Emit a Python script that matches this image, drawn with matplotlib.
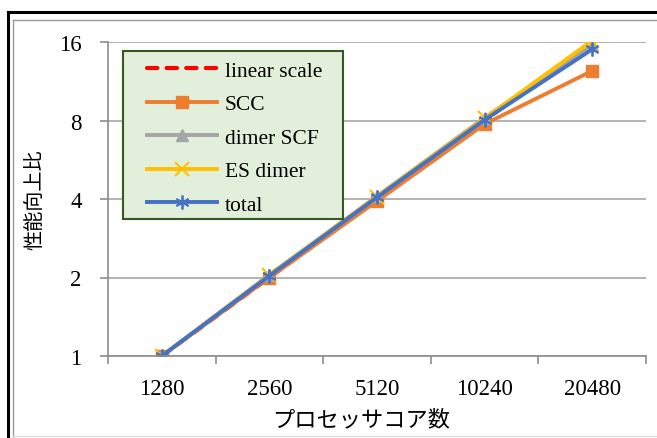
import matplotlib
matplotlib.use("Agg")
import matplotlib.pyplot as plt
from matplotlib.lines import Line2D
from matplotlib.patches import Rectangle

# data
cores = ["1280", "2560", "5120", "10240", "20480"]
linear_scale = [1, 2, 4, 8, 16]
scc = [1, 2.0, 3.93, 7.75, 12.4]
dimer_scf = [1, 2.05, 4.1, 8.2, 15.6]
es_dimer = [1, 2.04, 4.08, 8.15, 16.2]
total = [1, 2.03, 4.06, 8.05, 15.0]
yticks = [1, 2, 4, 8, 16]

W, H = 657, 439
plt.rcParams["font.family"] = ["Liberation Serif", "DejaVu Serif"]
jp = ["Noto Sans CJK JP", "DejaVu Sans"]

fig = plt.figure(figsize=(W / 100, H / 100), dpi=100)
ax = fig.add_axes([108 / W, 1 - 357 / H, (646 - 108) / W, (357 - 43) / H])

x = range(len(cores))
ax.plot(x, linear_scale, color="#FF0000", lw=3, ls=(0, (2.5, 2.2)),
        dash_capstyle="round", label="linear scale")
ax.plot(x, scc, color="#ED7D31", lw=2.8, marker="s", ms=9, label="SCC")
ax.plot(x, dimer_scf, color="#A5A5A5", lw=2.8, marker="^", ms=8, label="dimer SCF")
ax.plot(x, es_dimer, color="#FFC000", lw=2.8, marker="x", ms=10, mew=1.5, label="ES dimer")
ax.plot(x, total, color="#4472C4", lw=2.8, marker=(6, 2, 0), ms=10, mew=1.3, label="total")

ax.set_yscale("log", base=2)
ax.set_ylim(1, 16)
ax.set_yticks(yticks)
ax.set_yticklabels([str(v) for v in yticks])
ax.minorticks_off()
ax.set_xlim(-0.5, len(cores) - 0.5)
ax.set_xticks(list(x))
ax.set_xticklabels(cores)
ax.set_xticks([i - 0.5 for i in range(len(cores) + 1)], minor=True)
ax.tick_params(axis="x", which="major", length=0, labelsize=16.5, pad=16)
ax.tick_params(axis="x", which="minor", length=6, color="#8c8c8c", width=1.2)
ax.tick_params(axis="y", length=6, color="#8c8c8c", width=1.2, labelsize=16.5, pad=13)

ax.grid(True, axis="y", color="#a6a6a6", lw=1.2)
for s in ["top", "right"]:
    ax.spines[s].set_visible(False)
for s in ["left", "bottom"]:
    ax.spines[s].set_color("#8c8c8c")
    ax.spines[s].set_linewidth(1.2)

ax.set_xlabel("プロセッサコア数", family=jp, fontsize=16, labelpad=6)
ax.xaxis.label.set_x(0.47)
ax.set_ylabel("性能向上比", family=jp, fontsize=14.5, labelpad=10)

# legend box drawn separately so its padding can match the original
ax.add_patch(Rectangle((0.028, 0.436), 0.409, 0.535, transform=ax.transAxes,
                       facecolor="#E2EFDA", edgecolor="#385723", lw=1.5,
                       zorder=4.9, clip_on=False))
ax.legend(loc="upper left", bbox_to_anchor=(0.0725, 0.94), borderaxespad=0,
          fontsize=15.5, handlelength=3.25, labelspacing=0.62, borderpad=0,
          frameon=False, handletextpad=0.35)

# outer frame of the picture
fig.add_artist(Line2D([8 / W, 1], [1 - 13 / H, 1 - 13 / H], color="black", lw=2.2))
fig.add_artist(Line2D([8 / W, 8 / W], [0, 1 - 13 / H], color="black", lw=2.2))
fig.add_artist(Line2D([13 / W, 1], [1 - 21 / H, 1 - 21 / H], color="#9a9a9a", lw=1))
fig.add_artist(Line2D([13 / W, 13 / W], [0, 1 - 21 / H], color="#9a9a9a", lw=1))
fig.add_artist(Line2D([13 / W, 1], [2 / H, 2 / H], color="#dddddd", lw=1))

fig.savefig("out.png", dpi=100)
